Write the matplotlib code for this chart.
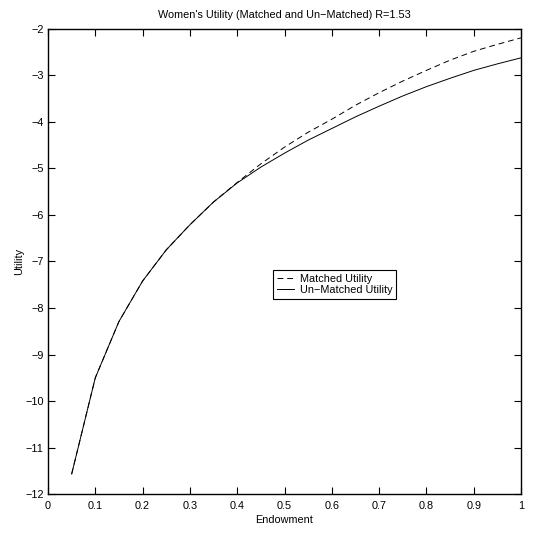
import matplotlib
matplotlib.use("Agg")
import matplotlib.pyplot as plt
from matplotlib import rcParams
rcParams['font.family'] = ['Liberation Sans', 'DejaVu Sans']
#================================================================================================#
## data
endowment = [0.05, 0.10, 0.15, 0.20, 0.25, 0.30, 0.35, 0.40, 0.45, 0.50,
             0.55, 0.60, 0.65, 0.70, 0.75, 0.80, 0.85, 0.90, 0.95, 1.00]
matched_utility = [-11.57, -9.50, -8.29, -7.42, -6.75, -6.21, -5.72, -5.30, -4.90, -4.54,
                   -4.22, -3.94, -3.64, -3.37, -3.12, -2.89, -2.67, -2.48, -2.33, -2.19]
unmatched_utility = [-11.57, -9.50, -8.29, -7.42, -6.75, -6.21, -5.72, -5.31, -4.97, -4.67,
                     -4.39, -4.14, -3.89, -3.66, -3.44, -3.24, -3.06, -2.89, -2.75, -2.62]
x_ticks = [0, 0.1, 0.2, 0.3, 0.4, 0.5, 0.6, 0.7, 0.8, 0.9, 1]
x_tick_labels = ['0', '0.1', '0.2', '0.3', '0.4', '0.5', '0.6', '0.7', '0.8', '0.9', '1']
y_ticks = [-12, -11, -10, -9, -8, -7, -6, -5, -4, -3, -2]
y_tick_labels = ['\u221212', '\u221211', '\u221210', '\u22129', '\u22128', '\u22127',
                 '\u22126', '\u22125', '\u22124', '\u22123', '\u22122']
#================================================================================================#
lw = 0.7
fs = 7.8

fig = plt.figure(figsize=(5.34, 5.34), dpi=100)
ax = fig.add_axes([0.0899, 0.0749, 0.8858, 0.8708])

ax.plot(endowment, matched_utility, color='black', lw=lw, dashes=(6, 4), label='Matched Utility')
ax.plot(endowment, unmatched_utility, color='black', lw=lw, label='Un\u2212Matched Utility')

ax.set_xlim(0, 1)
ax.set_ylim(-12, -2)
ax.set_xticks(x_ticks)
ax.set_xticklabels(x_tick_labels)
ax.set_yticks(y_ticks)
ax.set_yticklabels(y_tick_labels)
ax.tick_params(direction='in', length=5, width=0.8, top=True, right=True, labelsize=fs)
ax.tick_params(axis='x', pad=5)
ax.tick_params(axis='y', pad=3)
for sp in ax.spines.values():
    sp.set_linewidth(1.0)

ax.set_title("Women's Utility (Matched and Un\u2212Matched) R=1.53", fontsize=fs, pad=8)
ax.set_xlabel("Endowment", fontsize=fs, labelpad=3)
ax.set_ylabel("Utility", fontsize=fs, labelpad=1)

leg = ax.legend(loc='upper left', bbox_to_anchor=(0.476, 0.482), fontsize=fs,
                fancybox=False, framealpha=1, edgecolor='black', handlelength=1.6,
                handletextpad=0.5, borderpad=0.35, labelspacing=0.15, borderaxespad=0)
leg.get_frame().set_linewidth(0.8)

plt.savefig("out.png", dpi=100)
